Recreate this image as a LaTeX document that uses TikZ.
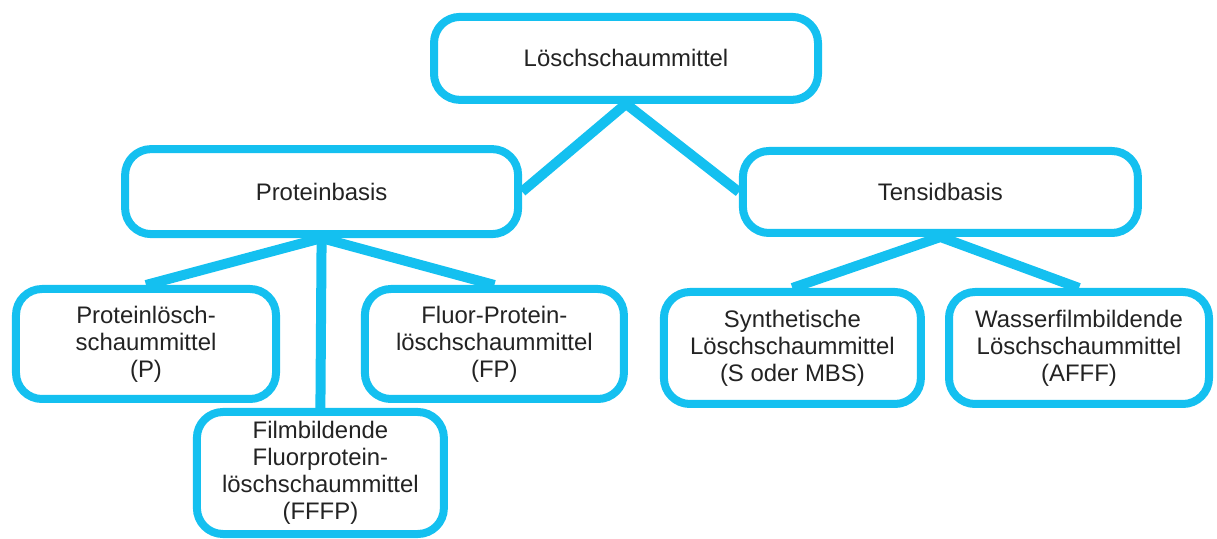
\documentclass[tikz,border=0pt]{standalone}
\usepackage{fontspec}
\setmainfont{Liberation Sans}
\usetikzlibrary{backgrounds}
\definecolor{foamCyan}{RGB}{20, 192, 240}
\definecolor{textGray}{RGB}{35, 35, 35}

\begin{document}
\begin{tikzpicture}[
    foambox/.style={draw=foamCyan, line width=0.2cm, fill=white, rounded corners=0.65cm,
      align=center, inner sep=0pt, text=textGray, font=\fontsize{17}{19.2}\selectfont},
    link/.style={foamCyan, line width=0.25cm}]
  \useasboundingbox (0,0) rectangle (30.425,13.45);

  % top level
  \node[foambox, minimum width=9.6cm, minimum height=2.075cm] (mittel) at (15.65,11.99) {Löschschaummittel};

  % second level
  \node[foambox, minimum width=9.825cm, minimum height=2.125cm] (protein) at (8.04,8.66) {Proteinbasis};
  \node[foambox, minimum width=9.875cm, minimum height=2.05cm] (tensid) at (23.51,8.65) {Tensidbasis};

  % third level
  \node[foambox, minimum width=6.5cm, minimum height=2.75cm] (p) at (3.65,4.85) {Proteinlösch-\\schaummittel\\(P)};
  \node[foambox, minimum width=6.475cm, minimum height=2.75cm] (fp) at (12.36,4.85) {Fluor-Protein-\\löschschaummittel\\(FP)};
  \node[foambox, minimum width=6.175cm, minimum height=3.05cm] (fffp) at (8.01,1.625) {Filmbildende\\Fluorprotein-\\löschschaummittel\\(FFFP)};
  \node[foambox, minimum width=6.425cm, minimum height=2.8cm] (s) at (19.81,4.75) {Synthetische\\Löschschaummittel\\(S oder MBS)};
  \node[foambox, minimum width=6.5cm, minimum height=2.8cm] (afff) at (26.975,4.75) {Wasserfilmbildende\\Löschschaummittel\\(AFFF)};

  \begin{scope}[on background layer]
    \draw[link] (protein.east) -- (mittel.south) -- (tensid.west);
    \draw[link] (p.north) -- (protein.south) -- (fp.north);
    \draw[link] (protein.south) -- (fffp.north);
    \draw[link] (s.north) -- (tensid.south) -- (afff.north);
  \end{scope}
\end{tikzpicture}
\end{document}
